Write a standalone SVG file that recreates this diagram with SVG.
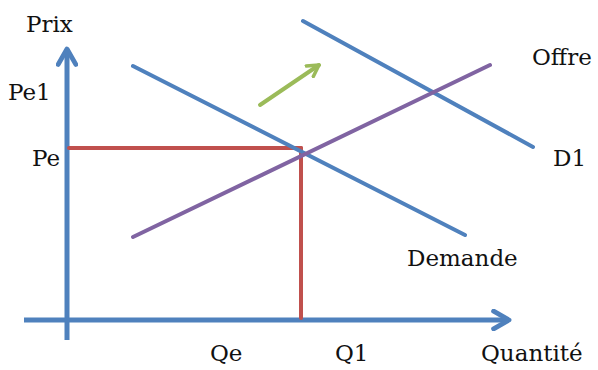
<svg xmlns="http://www.w3.org/2000/svg" width="598" height="370" viewBox="0 0 598 370">
<style>
.ax{stroke:#4f81bd;stroke-width:5;fill:none;stroke-linecap:butt}
.cv{stroke-width:4;fill:none;stroke-linecap:round}
.lbl{font-family:"DejaVu Serif","Liberation Serif",serif;font-size:23px;fill:#111}
</style>
<defs>
<marker id="ah" viewBox="0 0 10 10" refX="8" refY="5" markerWidth="4.4" markerHeight="4.4" orient="auto" markerUnits="strokeWidth">
<path d="M1,1 L8,5 L1,9" fill="none" stroke="#4f81bd" stroke-width="2.2" stroke-linecap="round" stroke-linejoin="round"/>
</marker>
<marker id="ahg" viewBox="0 0 10 10" refX="8" refY="5" markerWidth="4" markerHeight="4" orient="auto" markerUnits="strokeWidth">
<path d="M1,1 L8,5 L1,9" fill="none" stroke="#9bbb59" stroke-width="2.2" stroke-linecap="round" stroke-linejoin="round"/>
</marker>
</defs>
<g id="connectors">
<line class="ax" x1="67" y1="340" x2="67" y2="49" marker-end="url(#ah)"/>
<line class="ax" x1="24" y1="320" x2="509" y2="320" marker-end="url(#ah)"/>
<line class="cv" stroke="#c0504d" x1="69" y1="148" x2="301" y2="148"/>
<line class="cv" stroke="#c0504d" x1="301" y1="148" x2="301" y2="318"/>
<line class="cv" stroke="#4f81bd" x1="133" y1="66" x2="465" y2="235"/>
<line class="cv" stroke="#4f81bd" x1="303" y1="21" x2="533" y2="147"/>
<line class="cv" stroke="#8064a2" x1="133" y1="237" x2="490" y2="65"/>
<line class="cv" stroke="#9bbb59" stroke-width="5" x1="260" y1="105" x2="319" y2="65" marker-end="url(#ahg)"/>
</g>
<g id="label-prix"><text class="lbl" x="26" y="32">Prix</text></g>
<g id="label-pe1"><text class="lbl" x="8" y="100">Pe1</text></g>
<g id="label-pe"><text class="lbl" x="32" y="166">Pe</text></g>
<g id="label-offre"><text class="lbl" x="532" y="65">Offre</text></g>
<g id="label-d1"><text class="lbl" x="553" y="166">D1</text></g>
<g id="label-demande"><text class="lbl" x="407" y="266">Demande</text></g>
<g id="label-qe"><text class="lbl" x="210" y="361">Qe</text></g>
<g id="label-q1"><text class="lbl" x="335" y="361">Q1</text></g>
<g id="label-quantite"><text class="lbl" x="481" y="361">Quantité</text></g>
</svg>
